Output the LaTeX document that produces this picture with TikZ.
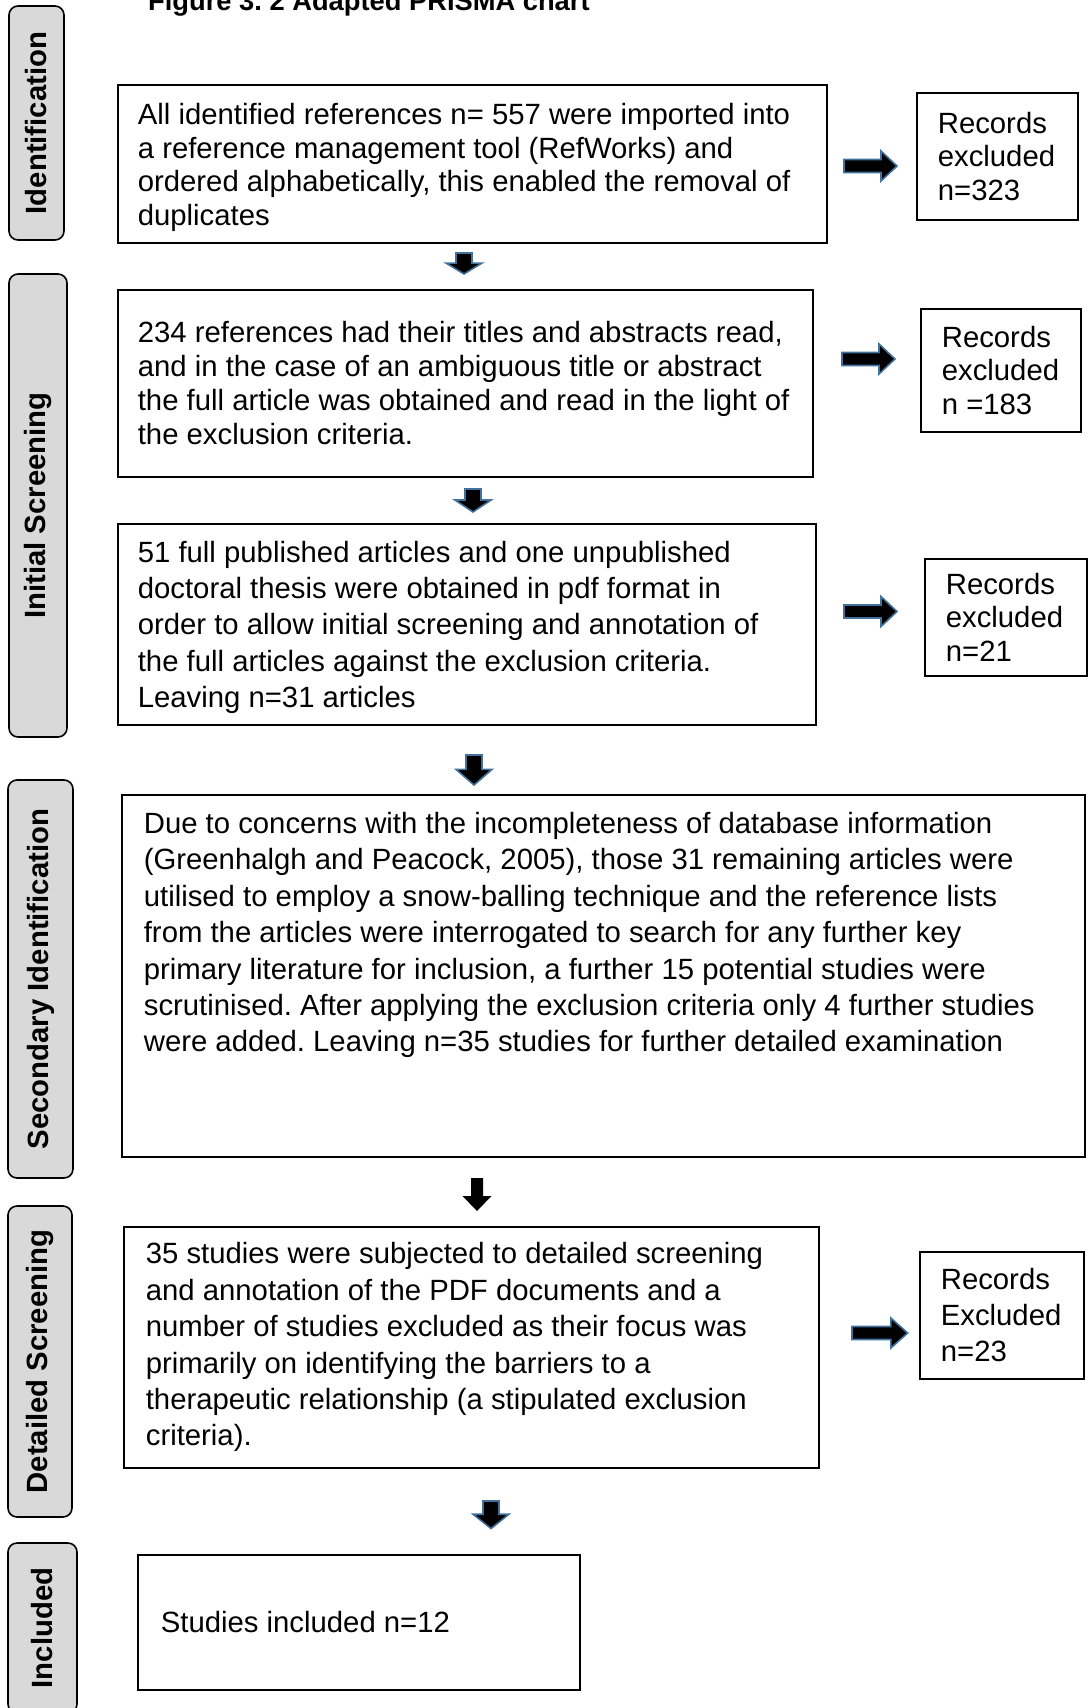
\documentclass[tikz,border=0pt]{standalone}
\usepackage{fontspec}
\setmainfont{Liberation Sans}
\frenchspacing
\definecolor{stagegray}{RGB}{217,217,217}
\definecolor{arrowblue}{RGB}{65,113,156}
\newcommand{\bodyfont}[1]{\fontsize{29.3}{#1}\selectfont}
\newcommand{\boxtxt}[5]{\hspace*{#1}\parbox[c][#2][c]{#3}{\bodyfont{#4}\raggedright #5}}
\tikzset{
  stage/.style={draw=black, line width=1.6pt, fill=stagegray, rounded corners=9pt, rotate=90, inner sep=0pt, font=\bfseries\fontsize{29.3}{31}\selectfont},
  framebox/.style={draw=black, line width=1.7pt, anchor=north west},
  tbox/.style={framebox, inner sep=0pt},
  blockarrow/.style={fill=black, draw=arrowblue, line width=1.6pt, line join=miter},
  plainarrow/.style={fill=black, draw=none},
  rarrow/.pic={\path[blockarrow] (0,-6.5) -- (37,-6.5) -- (37,-15) -- (53,0) -- (37,15) -- (37,6.5) -- (0,6.5) -- cycle;},
  darrow/.pic={\path[blockarrow] (-8,0) -- (8,0) -- (8,12) -- (18,12) -- (0,25) -- (-18,12) -- (-8,12) -- cycle;},
  darrowplain/.pic={\path[plainarrow] (-6,0) -- (6,0) -- (6,18) -- (14.5,18) -- (0,33) -- (-14.5,18) -- (-6,18) -- cycle;},
}
\begin{document}
\begin{tikzpicture}[x=1pt,y=-1pt]
\useasboundingbox (0,0) rectangle (1088,1708);
\clip (0,0) rectangle (1088,1708);

% title
\node[anchor=base west, inner sep=0pt, font=\bfseries\fontsize{27.3}{30}\selectfont] (title) at (148,10) {Figure 3. 2 Adapted PRISMA chart};

% stage labels
\node[stage, minimum width=234pt, minimum height=55pt] (s1) at (36.5,123) {Identification};
\node[stage, minimum width=463pt, minimum height=58pt] (s2) at (38,505.5) {Initial Screening};
\node[stage, minimum width=398pt, minimum height=65pt] (s3) at (40.5,979) {Secondary Identification};
\node[stage, minimum width=311pt, minimum height=64pt] (s4) at (40,1361.5) {Detailed Screening};
\node[stage, minimum width=170pt, minimum height=69pt] (s5) at (42.5,1628) {Included};

% main boxes
\node[tbox] (b1) at (117,84)
 {\boxtxt{20pt}{158pt}{689pt}{33.7}{\vspace*{7pt}All identified references n= 557 were imported into\\ a reference management tool (RefWorks) and\\ ordered alphabetically, this enabled the removal of\\ duplicates}};
\node[tbox] (b2) at (117,289)
 {\boxtxt{20pt}{187pt}{675pt}{34.1}{234 references had their titles and abstracts read,\\ and in the case of an ambiguous title or abstract\\ the full article was obtained and read in the light of\\ the exclusion criteria.}};
\node[tbox] (b3) at (117,523)
 {\boxtxt{20pt}{201pt}{678pt}{36.3}{\vspace*{6pt}51 full published articles and one unpublished\\ doctoral thesis were obtained in pdf format in\\ order to allow initial screening and annotation of\\ the full articles against the exclusion criteria.\\ Leaving n=31 articles}};
\node[framebox, inner xsep=22pt, inner ysep=17.5pt] (b4) at (121,794)
 {\parbox[c][327pt][t]{919pt}{\bodyfont{36.4}\raggedright
 Due to concerns with the incompleteness of database information\\
 (Greenhalgh and Peacock, 2005), those 31 remaining articles were\\
 utilised to employ a snow-balling technique and the reference lists\\
 from the articles were interrogated to search for any further key\\
 primary literature for inclusion, a further 15 potential studies were\\
 scrutinised. After applying the exclusion criteria only 4 further studies\\
 were added. Leaving n=35 studies for further detailed examination}};
\node[tbox] (b5) at (123,1226)
 {\boxtxt{22pt}{241pt}{673pt}{36.4}{35 studies were subjected to detailed screening\\ and annotation of the PDF documents and a\\ number of studies excluded as their focus was\\ primarily on identifying the barriers to a\\ therapeutic relationship (a stipulated exclusion\\ criteria).}};
\node[tbox] (b6) at (137,1554)
 {\boxtxt{23pt}{135pt}{419pt}{34}{Studies included n=12}};

% records excluded boxes
\node[tbox] (r1) at (916,92)
 {\boxtxt{21pt}{127pt}{140pt}{33.8}{Records\\ excluded\\ n=323}};
\node[tbox] (r2) at (920,308)
 {\boxtxt{21pt}{123pt}{139pt}{33.8}{Records\\ excluded\\ n =183}};
\node[tbox] (r3) at (924,558)
 {\boxtxt{21pt}{117pt}{141pt}{33.8}{Records\\ excluded\\ n=21}};
\node[tbox] (r4) at (919,1251)
 {\boxtxt{21pt}{127pt}{143pt}{36}{Records\\ Excluded\\ n=23}};

% block arrows
\pic (a1) at (844,166) {rarrow};
\pic (a2) at (842,359) {rarrow};
\pic (a3) at (844,611.5) {rarrow};
\pic[xscale=1.05] (a4) at (852,1333) {rarrow};
\pic[yscale=0.84] (d1) at (464,253) {darrow};
\pic[yscale=0.92] (d2) at (473,489) {darrow};
\pic[yscale=1.2] (d3) at (474,755) {darrow};
\pic (d4) at (477,1178) {darrowplain};
\pic[yscale=1.1] (d5) at (491,1501) {darrow};
\end{tikzpicture}
\end{document}
